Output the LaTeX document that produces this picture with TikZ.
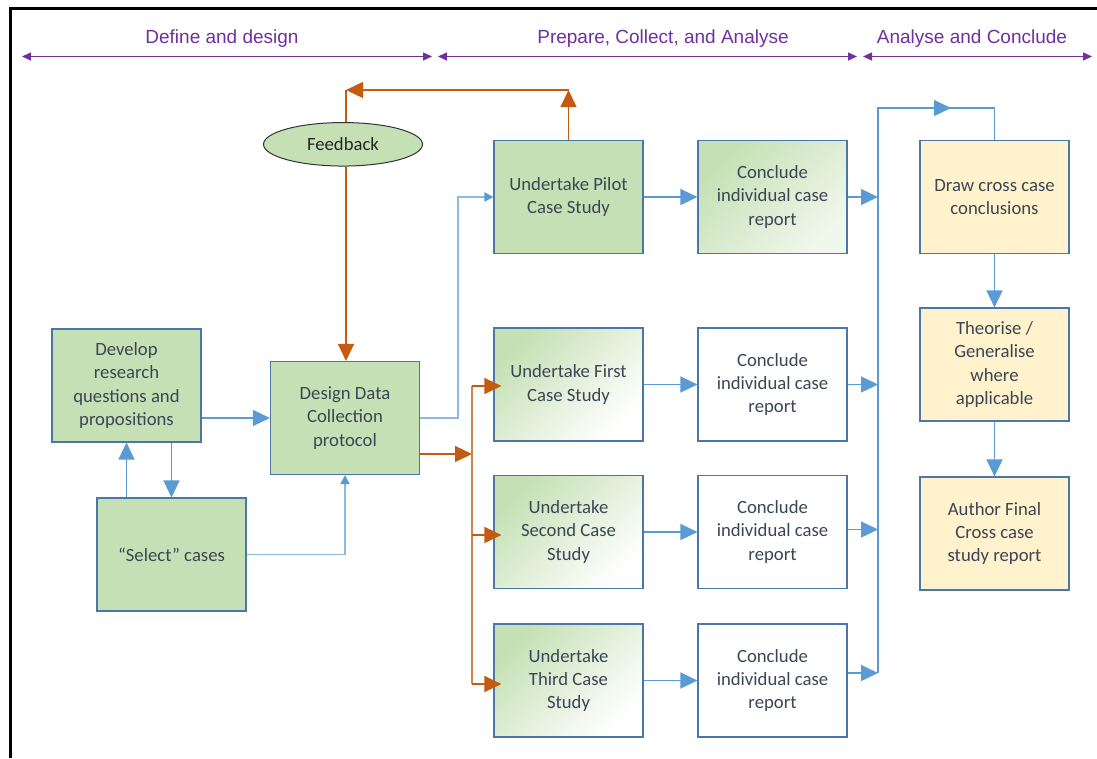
\documentclass[tikz,border=0pt]{standalone}
\usepackage{fontspec}
\setmainfont{Carlito}
\newfontfamily\headfont{Liberation Sans}
\usetikzlibrary{arrows.meta,shapes.geometric}

\definecolor{boxgreen}{HTML}{C5E0B4}
\definecolor{boxyellow}{HTML}{FFF2CC}
\definecolor{boxedge}{HTML}{4A76A8}
\definecolor{txt}{HTML}{3B4654}
\definecolor{flowblue}{HTML}{5B9BD5}
\definecolor{linkblue}{HTML}{8DB9E3}
\definecolor{fbkorange}{HTML}{C55A11}
\definecolor{phase}{HTML}{7030A0}

\tikzset{
  box/.style={draw=boxedge, line width=1.1pt, minimum width=149pt, minimum height=113pt,
    inner sep=0pt, align=center, text=txt, font=\fontsize{18.7}{23.3}\selectfont},
  greenbox/.style={box, fill=boxgreen},
  yellowbox/.style={box, fill=boxyellow},
  whitebox/.style={box, fill=white},
  fadebox/.style={box, top color=boxgreen, middle color=boxgreen!18, bottom color=white, shading angle=45},
  cornerfadebox/.style={box, top color=boxgreen, middle color=boxgreen, bottom color=boxgreen!25, shading angle=45},
  flowline/.style={draw=flowblue, line width=1.3pt},
  flow/.style={flowline, -{Triangle[length=17pt,width=16pt]}},
  linkline/.style={draw=linkblue, line width=1.8pt},
  link/.style={linkline, -{Triangle[length=9pt,width=9pt,color=flowblue]}},
  fbline/.style={draw=fbkorange, line width=1.3pt},
  fb/.style={fbline, -{Triangle[length=17pt,width=16pt]}},
  phasearrow/.style={draw=phase, line width=1.3pt,
    {Triangle[length=9pt,width=8pt]}-{Triangle[length=9pt,width=8pt]}},
  phaselabel/.style={text=phase, font=\headfont\fontsize{19}{23}\selectfont, inner sep=0pt}
}

\begin{document}
\begin{tikzpicture}[x=1pt,y=-1pt]
  \useasboundingbox[fill=white] (0,0) rectangle (1097,758);

  % frame edges
  \coordinate (frR) at (1097,8.5);
  \coordinate (frTL) at (10.5,8.5);
  \coordinate (frB) at (10.5,758);
  \draw[line width=3pt] (frR) -- (frTL) -- (frB);

  % phase headers
  \coordinate (p1a) at (22,56.5);  \coordinate (p1b) at (432,56.5);
  \coordinate (p2a) at (438,56.5); \coordinate (p2b) at (857,56.5);
  \coordinate (p3a) at (863,56.5); \coordinate (p3b) at (1092,56.5);
  \draw[phasearrow] (p1a) -- (p1b);
  \draw[phasearrow] (p2a) -- (p2b);
  \draw[phasearrow] (p3a) -- (p3b);
  \node[phaselabel] (h1) at (222,38.5) {Define and design};
  \node[phaselabel] (h2) at (663,39) {Prepare, Collect, and Analyse};
  \node[phaselabel] (h3) at (972,39) {Analyse and Conclude};

  % process boxes
  \node[greenbox] (dev) at (126.5,385.5) {Develop\\research\\questions and\\propositions};
  \node[greenbox] (sel) at (171.5,554.5) {“Select” cases};
  \node[greenbox] (des) at (345,418) {Design Data\\Collection\\protocol};
  \node[ellipse, draw=black!80, line width=1pt, fill=boxgreen, minimum width=159pt,
        minimum height=43.5pt, inner sep=0pt, font=\fontsize{18.7}{23.3}\selectfont,
        text=black!85] (fbk) at (343,144.3) {Feedback};

  \node[greenbox] (pilot) at (568.5,197) {Undertake Pilot\\Case Study};
  \node[fadebox] (first) at (568.5,384.5) {Undertake First\\Case Study};
  \node[fadebox] (second) at (568.5,532) {Undertake\\Second Case\\Study};
  \node[fadebox] (third) at (568.5,680.5) {Undertake\\Third Case\\Study};

  \node[cornerfadebox] (c1) at (772.5,197) {Conclude\\individual case\\report};
  \node[whitebox] (c2) at (772.5,384.5) {Conclude\\individual case\\report};
  \node[whitebox] (c3) at (772.5,532) {Conclude\\individual case\\report};
  \node[whitebox] (c4) at (772.5,680.5) {Conclude\\individual case\\report};

  \node[yellowbox] (draw) at (994.5,197) {Draw cross case\\conclusions};
  \node[yellowbox] (theo) at (994.5,364.5) {Theorise /\\Generalise\\where\\applicable};
  \node[yellowbox] (auth) at (994.5,533.5) {Author Final\\Cross case\\study report};

  % define and design links
  \draw[flow] (dev.east |- des.west) -- (des.west);
  \draw[flow] (dev.south -| sel.north) -- (sel.north);
  \draw[flow] (sel.north -| dev.south) -- (dev.south);
  \draw[link] (sel.east) -| (des.south);
  \draw[link] (des.east) -- ++(38,0) |- (pilot.west);

  % fan-out to the case studies
  \coordinate (fork) at (472,454);
  \coordinate (forktop) at (472,386);
  \coordinate (forkmid) at (472,535);
  \coordinate (forkbot) at (472,684);
  \draw[fb] (des.east |- fork) -- (fork);
  \draw[fbline, draw=fbkorange!75] (forktop) -- (forkbot);
  \draw[fb] (forktop) -- ([xshift=8pt]forktop -| first.west);
  \draw[fb] (forkmid) -- ([xshift=8pt]forkmid -| second.west);
  \draw[fb] (forkbot) -- ([xshift=8pt]forkbot -| third.west);

  % feedback loop from the pilot
  \coordinate (fbl) at (346,90);
  \draw[fb] (pilot.north) -- (pilot.north |- fbl);
  \draw[fb] (pilot.north |- fbl) -- (fbl);
  \draw[fbline] (fbl) -- (fbl |- fbk.north);
  \draw[fb] (fbk.south -| fbl) -- (fbl |- des.north);

  % case study to individual report
  \draw[flow] (pilot.east) -- (c1.west);
  \draw[flow] (first.east) -- (c2.west);
  \draw[flow] (second.east) -- (c3.west);
  \draw[flow] (third.east) -- (c4.west);

  % merge into cross case analysis
  \coordinate (mtop) at (878,108);
  \coordinate (mbot) at (878,673);
  \coordinate (mhead) at (951,108);
  \draw[flowline] (mbot) -- (mtop) -| (draw.north);
  \draw[flow] (mtop) -- (mhead);
  \draw[flow] (c1.east) -- (c1.east -| mtop);
  \draw[flow] (c2.east) -- (c2.east -| mtop);
  \draw[flow] ([yshift=2.5pt]c3.east) -- ([yshift=2.5pt]c3.east -| mtop);
  \draw[flow] ([yshift=7.5pt]c4.east) -- ([yshift=7.5pt]c4.east -| mtop);

  % cross case chain
  \draw[flow] (draw.south) -- (theo.north);
  \draw[flow] (theo.south) -- (auth.north);
\end{tikzpicture}
\end{document}
